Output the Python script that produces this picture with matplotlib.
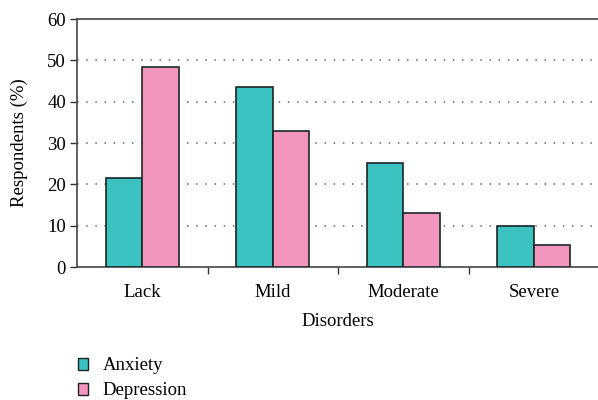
import matplotlib.pyplot as plt
import numpy as np
from matplotlib.patches import Patch

categories = ['Lack', 'Mild', 'Moderate', 'Severe']
anxiety = [21.5, 43.5, 25.2, 10.0]
depression = [48.5, 33.0, 13.0, 5.4]
series_names = ['Anxiety', 'Depression']

plt.rcParams['font.family'] = ['Liberation Serif', 'DejaVu Serif']
teal = '#3cc1c1'
pink = '#f296be'
edge = '#1a2626'
fs = 13.5

fig = plt.figure(figsize=(5.98, 4.0), dpi=100)
ax = fig.add_axes([0.1288, 0.3325, 0.873, 0.62])

x = np.arange(len(categories))
w = 0.28
ax.bar(x - w / 2, anxiety, w, color=teal, edgecolor=edge, linewidth=1.2, zorder=3)
ax.bar(x + w / 2, depression, w, color=pink, edgecolor=edge, linewidth=1.2, zorder=3)

ax.set_xlim(-0.5, 3.5)
ax.set_ylim(0, 60)
ax.set_yticks(range(0, 61, 10))
for yv in range(10, 60, 10):
    ax.axhline(yv, color='#666666', linestyle=(0, (1, 5)), linewidth=1.1, zorder=1)

ax.set_xticks(x)
ax.set_xticklabels(categories)
ax.set_xticks([0.5, 1.5, 2.5], minor=True)
ax.tick_params(axis='x', which='major', length=0, pad=12, labelsize=fs)
ax.tick_params(axis='x', which='minor', length=5, width=1.0, direction='out', color='#333333')
ax.tick_params(axis='y', length=5, width=1.0, color='#333333', labelsize=fs, pad=3)

for s in ['left', 'bottom', 'top', 'right']:
    ax.spines[s].set_color('#444444')
    ax.spines[s].set_linewidth(1.2)

ax.set_ylabel('Respondents (%)', fontsize=fs, labelpad=14)
ax.set_xlabel('Disorders', fontsize=fs, labelpad=9)

handles = [Patch(facecolor=teal, edgecolor=edge, linewidth=1.0),
           Patch(facecolor=pink, edgecolor=edge, linewidth=1.0)]
fig.legend(handles, series_names, loc='upper left', bbox_to_anchor=(0.118, 0.125),
           frameon=False, fontsize=fs, handlelength=0.55, handleheight=0.6,
           handletextpad=0.75, labelspacing=0.42, borderaxespad=0)

fig.savefig('out.png', dpi=100)
